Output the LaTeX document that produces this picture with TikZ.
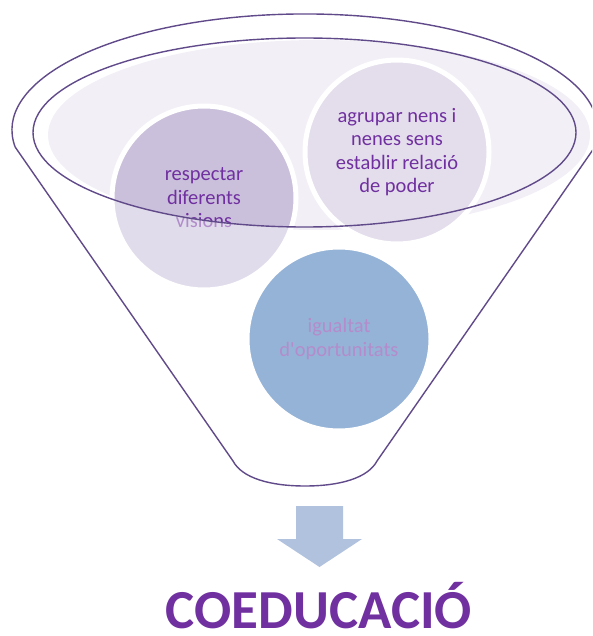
\documentclass[tikz,border=0pt]{standalone}
\usepackage{fontspec}
\setmainfont{Carlito}
\definecolor{outl}{RGB}{96,74,138}
\definecolor{ellfill}{RGB}{242,239,246}
\definecolor{cone}{RGB}{202,192,219}
\definecolor{ctwo}{RGB}{228,222,236}
\definecolor{cthree}{RGB}{149,179,215}
\definecolor{arrowc}{RGB}{176,194,222}
\definecolor{txt}{RGB}{112,48,160}
\definecolor{txtlight}{RGB}{180,140,203}
\tikzset{
  bubble/.style={circle, minimum size=184pt, inner sep=0pt, draw=white, line width=5pt, align=center, font=\fontsize{20.5}{23.5}\selectfont},
  funnelline/.style={draw=outl, line width=1.4pt, line join=round},
}
\begin{document}
\begin{tikzpicture}[x=1pt,y=-1pt]
\useasboundingbox (0,0) rectangle (592,636);
\clip (0,0) rectangle (592,636);
% light top fill
\fill[ellfill] (319,135) ellipse [x radius=271, y radius=95];
% circle 1
\node[bubble, fill=cone, text=txt] (c1) at (204,198) {respectar\\diferents\\visions};
\begin{scope}
  \clip (204,198) circle [radius=92];
  \fill[white, opacity=0.45, even odd rule] (304.5,132.5) ellipse [x radius=271.5, y radius=94.5] (0,0) rectangle (592,636);
\end{scope}
% circle 2
\node[bubble, fill=ctwo, text=txt] (c2) at (397,152) {agrupar nens i\\nenes sens\\establir relació\\de poder};
% inner ellipse outline
\draw[funnelline] (304.5,132.5) ellipse [x radius=271.5, y radius=94.5];
% circle 3
\node[bubble, fill=cthree, text=txtlight] (c3) at (339,339) {igualtat\\d\textquotesingle oportunitats};
% funnel outline
\draw[funnelline] (15.2,147.1) arc [start angle=171.5, end angle=368.5, x radius=293, y radius=116]
  -- (377,461) .. controls (368,478) and (340,486) .. (305,486)
  .. controls (270,486) and (242,478) .. (233,461) -- cycle;
% arrow
\fill[arrowc] (296,506) -- (343,506) -- (343,539) -- (362,539) -- (319.5,567) -- (277,539) -- (296,539) -- cycle;
% title
\node[anchor=base, text=txt, font=\fontsize{55}{66}\selectfont\bfseries, inner sep=0pt] (title) at (319,628) {COEDUCACIÓ};
\end{tikzpicture}
\end{document}
